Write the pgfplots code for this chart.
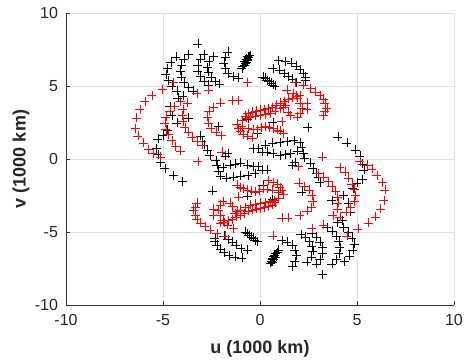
\documentclass[border=0pt]{standalone}
\usepackage{pgfplots}
\pgfplotsset{compat=1.18}
\usepackage{pgfplotstable}
\usepackage{fontspec}
\setmainfont{Liberation Sans}

% points of the half plane v>=0; the conjugate points (-u,-v) are drawn too
\pgfplotstableread{
u v
-3.20 7.88
-4.33 6.99
-4.59 6.64
-4.79 6.23
-4.85 5.82
-4.74 5.41
-4.54 5.00
-4.28 4.66
-3.97 4.32
-3.71 7.19
-3.92 6.85
-4.07 6.44
-4.12 6.03
-4.07 5.62
-3.92 5.27
-3.71 4.93
-3.45 4.66
-2.89 7.19
-3.09 6.85
-3.20 6.44
-3.20 6.03
-3.09 5.68
-2.89 5.34
-2.68 5.07
-2.42 7.05
-2.63 6.71
-2.73 6.30
-2.68 5.96
-2.53 5.62
-2.32 5.34
-2.11 5.14
-1.65 7.33
-1.80 6.99
-1.86 6.58
-1.80 6.23
-1.65 5.89
-1.39 5.68
-1.13 5.55
-0.52 7.12
-0.57 6.99
-0.62 6.85
-0.67 6.78
-0.72 6.64
-0.77 6.58
-0.82 6.44
-0.88 6.37
-0.93 6.23
-0.62 7.05
-0.72 6.85
-0.82 6.71
0.93 6.78
1.29 6.71
1.60 6.58
1.86 6.37
2.06 6.16
2.22 5.89
2.32 5.62
2.32 5.41
0.67 6.23
0.98 6.10
1.24 5.89
1.44 5.68
1.65 5.48
1.86 5.27
0.15 5.62
0.26 5.55
0.36 5.41
0.46 5.34
0.57 5.21
0.67 5.07
0.77 5.00
-4.23 4.18
-3.76 3.84
-4.64 3.63
-4.54 3.01
-3.71 2.81
-4.28 2.47
-4.79 1.99
-5.00 1.64
-5.26 1.37
-5.36 0.75
-5.26 0.34
4.02 1.51
4.48 1.10
4.90 0.62
5.15 0.21
-3.09 1.58
-2.99 1.23
-2.89 0.96
-2.73 0.62
-2.58 0.27
-2.16 2.26
-1.65 0.41
-1.80 0.21
-0.62 2.74
-0.36 0.75
-0.15 1.78
-0.10 0.75
0.26 0.96
0.62 1.10
1.03 1.16
1.39 1.23
1.75 1.30
2.06 1.16
2.16 0.82
2.22 0.41
2.27 0.07
0.10 0.48
0.36 0.48
0.67 0.41
1.03 0.27
1.29 0.34
1.55 0.41
1.91 0.55
0.67 2.53
2.47 2.19
}\blackpts

\pgfplotstableread{
u v
-4.48 5.27
-5.05 4.79
-5.57 4.38
-5.93 3.97
-6.19 3.42
-6.39 2.81
-6.44 2.12
-6.29 1.58
-6.03 1.10
-5.77 0.68
-5.52 0.41
-5.15 0.14
-4.12 3.97
-4.43 3.63
-4.64 3.29
-4.85 2.88
-4.90 2.47
-4.85 2.05
-4.74 1.71
-4.54 1.30
-4.38 0.89
-4.12 0.55
-3.76 3.84
-3.97 3.42
-4.02 3.01
-3.97 2.60
-3.87 2.19
-3.71 1.85
-3.51 1.51
-3.25 1.23
-2.99 0.96
-2.06 3.84
-2.42 3.56
-2.63 3.29
-2.73 2.88
-2.68 2.47
-2.53 2.12
-2.27 1.85
-2.01 1.64
-3.25 4.52
-2.68 4.73
-1.44 4.04
-1.13 4.04
-0.67 5.27
-0.77 2.95
-0.62 3.15
-0.41 3.22
-0.21 3.29
0.00 3.36
0.21 3.42
0.41 3.49
0.62 3.56
0.82 3.70
1.03 3.84
1.24 3.97
1.44 4.11
1.65 4.18
1.86 4.32
2.06 4.38
-0.93 2.67
-0.72 2.81
-0.52 2.88
-0.26 2.95
0.00 3.01
0.26 3.08
0.52 3.15
0.77 3.29
1.03 3.49
1.29 3.70
-1.19 2.40
-1.13 2.12
-1.03 1.92
-0.88 1.71
-0.67 1.58
-0.41 1.44
-0.93 2.26
-0.62 2.12
-0.36 2.05
-0.15 2.05
0.05 2.19
0.26 2.26
0.46 2.19
0.67 2.12
0.88 1.99
1.03 1.92
1.19 1.78
1.80 5.27
2.22 5.07
2.58 4.86
2.84 4.59
3.09 4.38
3.25 4.11
3.35 3.84
3.45 3.49
3.35 3.29
3.25 3.01
1.39 4.73
1.70 4.52
1.91 4.18
2.06 3.84
2.16 3.49
2.06 3.15
1.91 2.88
1.19 3.56
1.44 3.22
1.55 3.01
2.42 3.84
2.42 3.42
1.13 2.60
-1.96 0.48
3.20 0.14
}\redpts

\begin{document}
\begin{tikzpicture}
\begin{axis}[
  scale only axis, width=388pt, height=292pt,
  xmin=-10, xmax=10, ymin=-10, ymax=10,
  xtick={-10,-5,0,5,10}, ytick={-10,-5,0,5,10},
  grid=major, grid style={line width=0.5pt, draw=black!12},
  axis x line*=bottom, axis y line*=left,
  axis line style={-, draw=black!80, line width=0.6pt},
  tick style={draw=black!80, line width=0.5pt},
  tick align=inside, major tick length=4pt,
  /pgf/number format/assume math mode=true,
  ticklabel style={font=\fontsize{16}{19}\selectfont, text=black!85},
  xticklabel shift=6pt, yticklabel shift=4.5pt,
  xlabel={u (1000 km)}, ylabel={v (1000 km)},
  label style={font=\fontsize{18}{21}\selectfont\bfseries, text=black!85},
  xlabel style={at={(axis description cs:0.5,-0.151)}, anchor=center},
  ylabel style={at={(axis description cs:-0.116,0.5)}, anchor=center},
  clip=false,
]
\addplot[only marks, mark=+, mark size=4.5pt, mark options={line width=0.75pt}, black] table[x=u, y=v] {\blackpts};
\addplot[only marks, mark=+, mark size=4.5pt, mark options={line width=0.75pt}, black] table[x expr=-\thisrow{u}, y expr=-\thisrow{v}] {\blackpts};
\addplot[only marks, mark=+, mark size=4.5pt, mark options={line width=0.75pt}, red] table[x=u, y=v] {\redpts};
\addplot[only marks, mark=+, mark size=4.5pt, mark options={line width=0.75pt}, red] table[x expr=-\thisrow{u}, y expr=-\thisrow{v}] {\redpts};
\end{axis}
\pgfresetboundingbox
\path[use as bounding box] (-66pt,-59pt) rectangle (403pt,305pt);
\end{tikzpicture}
\end{document}
